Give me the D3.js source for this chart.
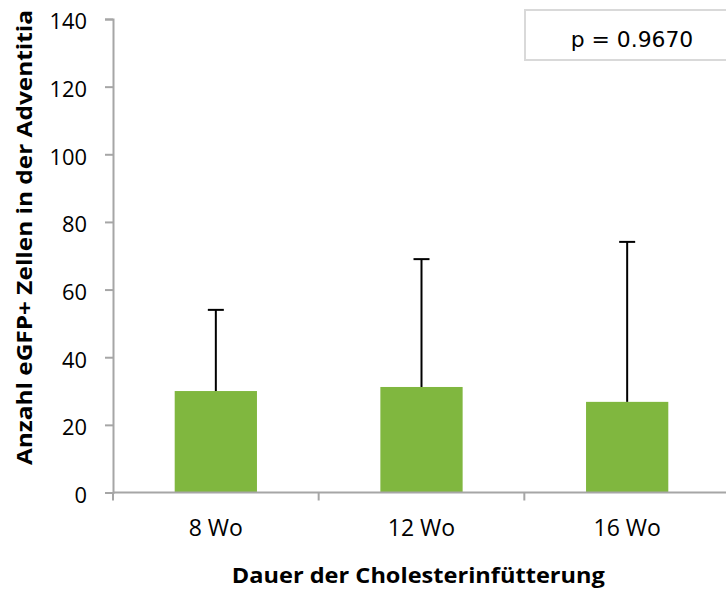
<!DOCTYPE html>
<html>
<head>
<meta charset="utf-8">
<script src="https://cdn.jsdelivr.net/npm/d3@7"></script>
<style>
  body { margin: 0; background: #fff; }
  svg { display: block; }
</style>
</head>
<body>
<svg id="chart" width="726" height="590"></svg>
<script>
// Data
const categories = ["8 Wo", "12 Wo", "16 Wo"];
const means = [30, 31.2, 26.8];
const errors = [24, 37.8, 47.3]; // upper error (mean + error = top of whisker)
const yTicks = [0, 20, 40, 60, 80, 100, 120, 140];
const pLabel = "p = 0.9670";

const svg = d3.select("#chart");
const plotLeft = 113, plotRight = 730, plotTop = 19, plotBottom = 492.5;
const tickFont = "'Open Sans', 'Liberation Sans', sans-serif";

const x = d3.scaleBand().domain(categories).range([plotLeft, plotRight]).paddingInner(0.6).paddingOuter(0.3);
const xOuter = d3.scaleBand().domain(categories).range([plotLeft, plotRight]);
const y = d3.scaleLinear().domain([0, 140]).range([plotBottom, plotTop]);

const axisColor = "#a6a6a6";

// Bars
svg.append("g").selectAll("rect").data(categories).join("rect")
  .attr("x", d => x(d))
  .attr("width", x.bandwidth())
  .attr("y", (d, i) => y(means[i]))
  .attr("height", (d, i) => y(0) - y(means[i]))
  .attr("fill", "#80b73f");

// Error bars (upper only)
const eb = svg.append("g").attr("stroke", "#000").attr("stroke-width", 2);
categories.forEach((c, i) => {
  const cx = x(c) + x.bandwidth() / 2;
  eb.append("line").attr("x1", cx).attr("x2", cx)
    .attr("y1", y(means[i])).attr("y2", y(means[i] + errors[i]));
  eb.append("line").attr("x1", cx - 8).attr("x2", cx + 8)
    .attr("y1", y(means[i] + errors[i])).attr("y2", y(means[i] + errors[i]));
});

// Y axis
const yAxis = svg.append("g").attr("transform", `translate(${plotLeft},0)`)
  .call(d3.axisLeft(y).tickValues(yTicks).tickSize(8).tickPadding(18));
yAxis.select(".domain").attr("stroke", axisColor).attr("stroke-width", 2);
yAxis.selectAll(".tick line").attr("stroke", axisColor).attr("stroke-width", 2);
yAxis.selectAll(".tick text")
  .attr("font-family", tickFont).attr("font-size", 22).attr("fill", "#000")
  .attr("dy", "0.45em")
  .attr("textLength", d => String(d).length * 12.5)
  .attr("lengthAdjust", "spacingAndGlyphs");

// X axis line with boundary ticks
const xg = svg.append("g");
xg.append("line").attr("x1", plotLeft).attr("x2", plotRight).attr("y1", plotBottom).attr("y2", plotBottom)
  .attr("stroke", axisColor).attr("stroke-width", 2);
const bounds = categories.map(c => xOuter(c)).concat([plotRight]);
xg.selectAll("line.tk").data(bounds).join("line").attr("class", "tk")
  .attr("x1", d => d).attr("x2", d => d).attr("y1", plotBottom).attr("y2", plotBottom + 8)
  .attr("stroke", axisColor).attr("stroke-width", 2);
xg.selectAll("text").data(categories).join("text")
  .attr("x", d => xOuter(d) + xOuter.bandwidth() / 2)
  .attr("y", 536)
  .attr("text-anchor", "middle")
  .attr("font-family", tickFont).attr("font-size", 23).attr("fill", "#000")
  .text(d => d);

// Axis titles
svg.append("text")
  .attr("transform", "translate(32,237.5) rotate(-90)")
  .attr("text-anchor", "middle")
  .attr("font-family", tickFont).attr("font-weight", "bold").attr("font-size", 21)
  .attr("textLength", 455).attr("lengthAdjust", "spacingAndGlyphs")
  .text("Anzahl eGFP+ Zellen in der Adventitia");
svg.append("text")
  .attr("x", 418.3).attr("y", 583.3)
  .attr("text-anchor", "middle")
  .attr("font-family", tickFont).attr("font-weight", "bold").attr("font-size", 21)
  .attr("textLength", 373).attr("lengthAdjust", "spacingAndGlyphs")
  .text("Dauer der Cholesterinfütterung");

// p-value box
svg.append("rect").attr("x", 525).attr("y", 10).attr("width", 215).attr("height", 50)
  .attr("fill", "#fff").attr("stroke", "#d9d9d9").attr("stroke-width", 2);
svg.append("text").attr("x", 632).attr("y", 46.7).attr("text-anchor", "middle")
  .attr("font-family", "'DejaVu Sans', sans-serif").attr("font-size", 21)
  .attr("textLength", 122.6).attr("lengthAdjust", "spacingAndGlyphs")
  .text(pLabel);
</script>
</body>
</html>
